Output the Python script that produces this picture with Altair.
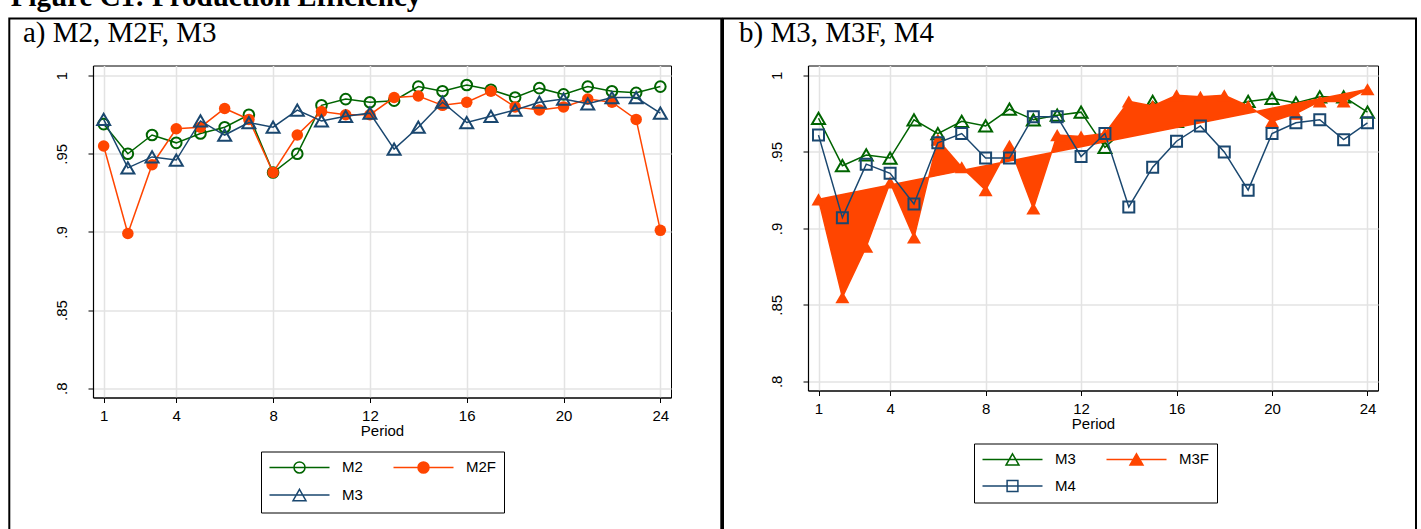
import altair as alt
import pandas as pd

# ---------------- data ----------------
periods = list(range(1, 25))
m2 = [0.969, 0.950, 0.962, 0.957, 0.963, 0.967, 0.975, 0.938, 0.950, 0.981, 0.985, 0.983,
      0.984, 0.993, 0.990, 0.994, 0.991, 0.986, 0.992, 0.988, 0.993, 0.990, 0.989, 0.993]
m2f = [0.955, 0.899, 0.943, 0.966, 0.967, 0.979, 0.972, 0.938, 0.962, 0.977, 0.975, 0.975,
       0.986, 0.987, 0.981, 0.983, 0.990, 0.980, 0.978, 0.980, 0.985, 0.983, 0.972, 0.901]
m3 = [0.972, 0.941, 0.948, 0.946, 0.971, 0.962, 0.970, 0.967, 0.978, 0.971, 0.974, 0.976,
      0.953, 0.967, 0.983, 0.970, 0.974, 0.978, 0.983, 0.985, 0.982, 0.986, 0.986, 0.976]
m3f = [0.919, 0.855, 0.888, 0.930, 0.894, 0.958, 0.940, 0.925, 0.954, 0.913, 0.961, 0.960,
       0.962, 0.983, 0.980, 0.987, 0.986, 0.987, 0.980, 0.970, 0.975, 0.983, 0.983, 0.991]
m4 = [0.961, 0.907, 0.942, 0.936, 0.916, 0.956, 0.962, 0.946, 0.946, 0.973, 0.973, 0.947,
      0.962, 0.914, 0.940, 0.957, 0.967, 0.950, 0.925, 0.962, 0.969, 0.971, 0.958, 0.969]

x_ticks = [1, 4, 8, 12, 16, 20, 24]
y_ticks = [0.8, 0.85, 0.9, 0.95, 1.0]
legend_a = ["M2", "M2F", "M3"]
legend_b = ["M3", "M3F", "M4"]
title_a = "a) M2, M2F, M3"
title_b = "b) M3, M3F, M4"
fig_title = "Figure C1: Production Efficiency"
x_title = "Period"

# ---------------- styles ----------------
GREEN = "#006400"
ORANGE = "#ff4500"
NAVY = "#1a476f"
SANS = "Liberation Sans"
SERIF = "Liberation Serif"
X_DOMAIN = [0.56, 24.44]
Y_DOMAIN = [0.794, 1.0065]

# legend key symbols: a line segment with the marker in the middle (units of 6 px)
LINE = "M-5,0L5,0"
CIRCLE = LINE + "M0.92,0A0.92,0.92 0 1,1 -0.92,0A0.92,0.92 0 1,1 0.92,0Z"
TRI = LINE + "M0,-0.94L1.08,0.94L-1.08,0.94Z"
SQUARE = LINE + "M-0.9,-0.9L0.9,-0.9L0.9,0.9L-0.9,0.9Z"

x_axis = alt.Axis(values=x_ticks, title=x_title, grid=True, gridColor="#e3e3e3", gridWidth=1.5,
                  tickSize=5, tickColor="black", domainColor="black", domainWidth=1.2,
                  labelFont=SANS, labelFontSize=15, labelColor="black", labelPadding=6,
                  labelFlush=False, titleFont=SANS, titleFontSize=15, titleFontWeight="normal",
                  titleColor="black", titlePadding=0)
y_axis = alt.Axis(values=y_ticks, title=None, grid=True, gridColor="#e3e3e3", gridWidth=1.5,
                  tickSize=5, tickColor="black", domainColor="black", domainWidth=1.2,
                  labelFont=SANS, labelFontSize=15, labelColor="black", labelAngle=270,
                  labelAlign="center", labelBaseline="bottom", labelPadding=19,
                  labelFlush=False,
                  labelExpr="replace(format(datum.value, '.2~f'), '0.', '.')")


def xenc():
    return alt.X("period:Q", scale=alt.Scale(domain=X_DOMAIN, nice=False, zero=False), axis=x_axis)


def yenc():
    return alt.Y("value:Q", scale=alt.Scale(domain=Y_DOMAIN, nice=False, zero=False), axis=y_axis)


def sdf(vals):
    return pd.DataFrame({"period": periods, "value": vals})


def line(vals, color):
    return alt.Chart(sdf(vals)).mark_line(color=color, strokeWidth=1.5).encode(x=xenc(), y=yenc())


def pts(vals, color, shape, size, filled):
    return alt.Chart(sdf(vals)).mark_point(
        shape=shape, size=size, filled=filled, color=color, opacity=1,
        strokeWidth=0 if filled else 2).encode(x=xenc(), y=yenc())


def frame(x1, x2, y1, y2):
    return alt.Chart(pd.DataFrame({"k": [0]})).mark_rect(
        fill="transparent", stroke="black", strokeWidth=2).encode(
        x=alt.value(x1), x2=alt.value(x2), y=alt.value(y1), y2=alt.value(y2))


def label(text, x, y):
    return alt.Chart(pd.DataFrame({"k": [0]})).mark_text(
        align="left", baseline="alphabetic", font=SERIF, fontSize=29, color="black").encode(
        x=alt.value(x), y=alt.value(y), text=alt.value(text))


def legend_layer(names, strokes, fills, shapes, lx, ly):
    leg = alt.Legend(title=None, orient="none", legendX=lx, legendY=ly, columns=2,
                     direction="horizontal",
                     padding=8, rowPadding=9, columnPadding=27, strokeColor="black",
                     fillColor="white", labelFont=SANS, labelFontSize=15, labelColor="black",
                     symbolSize=144, symbolStrokeWidth=1.5, symbolOffset=23, labelOffset=35,
                     symbolOpacity=1)
    return alt.Chart(pd.DataFrame({"series": names})).mark_point(filled=False).encode(
        stroke=alt.Stroke("series:N", scale=alt.Scale(domain=names, range=strokes), legend=leg),
        fill=alt.Fill("series:N", scale=alt.Scale(domain=names, range=fills), legend=leg),
        shape=alt.Shape("series:N", scale=alt.Scale(domain=names, range=shapes), legend=leg),
    ).transform_filter("false")


# ---------------- panel a ----------------
panel_a = alt.layer(
    frame(-83.7, 628.3, -47, 480),
    label(title_a, -70, -24),
    line(m2, GREEN), pts(m2, GREEN, "circle", 113, False),
    line(m2f, ORANGE), pts(m2f, ORANGE, "circle", 133, True),
    line(m3, NAVY), pts(m3, NAVY, "triangle-up", 169, False),
    legend_layer(legend_a, [GREEN, ORANGE, NAVY], ["transparent", ORANGE, "transparent"],
                 [CIRCLE, CIRCLE, TRI], 168, 386),
).properties(width=578, height=332)

# ---------------- panel b ----------------
m3f_df = sdf(m3f)
m3f_df["chord"] = [m3f[0] + (m3f[-1] - m3f[0]) * (p - periods[0]) / (periods[-1] - periods[0])
                   for p in periods]
m3f_area = alt.Chart(m3f_df).mark_area(
    fill=ORANGE, stroke=ORANGE, strokeWidth=1.5, opacity=1, fillOpacity=1,
    interpolate="linear").encode(x=xenc(), y=yenc(), y2="chord:Q")

panel_b = alt.layer(
    frame(-85, 608, -47, 480),
    label(title_b, -69, -24),
    line(m3, GREEN), pts(m3, GREEN, "triangle-up", 169, False),
    m3f_area, pts(m3f, ORANGE, "triangle-up", 196, True),
    line(m4, NAVY), pts(m4, NAVY, "square", 121, False),
    legend_layer(legend_b, [GREEN, ORANGE, NAVY], ["transparent", ORANGE, "transparent"],
                 [TRI, TRI, SQUARE], 166, 378),
).properties(width=570, height=325)

chart = alt.hconcat(panel_a, panel_b, spacing=-2).resolve_scale(
    stroke="independent", fill="independent", shape="independent"
).properties(
    title=alt.TitleParams(fig_title, anchor="start", font=SERIF, fontSize=29, fontWeight="bold",
                          color="black", offset=-24, dx=3, baseline="bottom"),
    padding={"left": 7, "top": -17.5, "right": 0, "bottom": 0},
    background="white",
).configure_view(stroke="black", strokeWidth=1)

chart.save("out.html", embed_options={"renderer": "svg", "actions": False})
